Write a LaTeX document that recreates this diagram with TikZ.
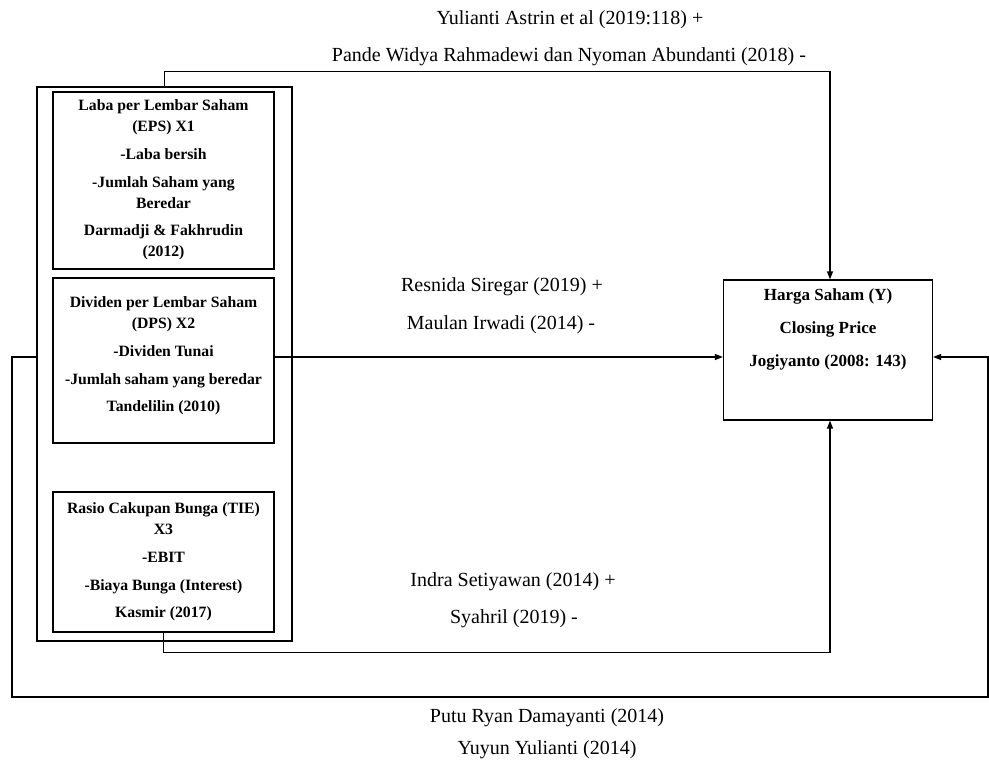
\documentclass[tikz,border=0pt]{standalone}
\usepackage{fontspec}
\setmainfont{Liberation Serif}
\usetikzlibrary{arrows.meta, positioning}

\begin{document}
\begin{tikzpicture}[x=0.75pt, y=-0.75pt, line width=0.9pt,
    kotak/.style={draw, inner sep=0pt},
    isi/.style={align=center, font=\bfseries\fontsize{11.8}{15.75}\selectfont},
    ket/.style={font=\fontsize{15}{18}\selectfont},
    panah/.style={-{Triangle[length=6pt,width=4.5pt]}}]
    \useasboundingbox (0,0) rectangle (989,764);

    % kotak variabel
    \node[kotak, minimum width=191.25pt, minimum height=415.5pt] (luar) at (164.5,364) {};
    \node[kotak, minimum width=165.75pt, minimum height=132.75pt] (eps) at (163.5,180.5) {};
    \node[kotak, minimum width=165.75pt, minimum height=123.75pt] (dps) at (163.5,360.5) {};
    \node[kotak, minimum width=165.75pt, minimum height=105pt] (tie) at (163.5,562) {};
    \node[kotak, minimum width=156.75pt, minimum height=105pt] (harga) at (828,350) {};

    \node[isi] (teps) at (163.5,180) {Laba per Lembar Saham\\(EPS) X1\\[5pt]-Laba bersih\\[5pt]-Jumlah Saham yang\\Beredar\\[5pt]Darmadji \& Fakhrudin\\(2012)};
    \node[isi] (tdps) at (163.5,356) {Dividen per Lembar Saham\\(DPS) X2\\[5pt]-Dividen Tunai\\[5pt]-Jumlah saham yang beredar\\[5pt]Tandelilin (2010)};
    \node[isi] (ttie) at (163.5,562) {Rasio Cakupan Bunga (TIE)\\X3\\[5pt]-EBIT\\[5pt]-Biaya Bunga (Interest)\\[5pt]Kasmir (2017)};
    \node[isi, font=\bfseries\fontsize{12.75}{24.75}\selectfont] (tharga) at (828,329.5) {Harga Saham (Y)\\Closing Price\\Jogiyanto (2008: 143)};

    % keterangan peneliti
    \node[ket] (ref1) at (570,20) {Yulianti Astrin et al (2019:118) +};
    \node[ket] (ref2) at (569,57) {Pande Widya Rahmadewi dan Nyoman Abundanti (2018) -};
    \node[ket] (ref3) at (502,287) {Resnida Siregar (2019) +};
    \node[ket] (ref4) at (501,325) {Maulan Irwadi (2014) -};
    \node[ket] (ref5) at (513,582) {Indra Setiyawan (2014) +};
    \node[ket] (ref6) at (514,619) {Syahril (2019) -};
    \node[ket] (ref7) at (547,718) {Putu Ryan Damayanti (2014)};
    \node[ket] (ref8) at (547,750) {Yuyun Yulianti (2014)};

    % garis hubungan
    \coordinate (masuk) at (0,357);
    \coordinate (tengah) at (830,0);
    \coordinate (kiri) at (12,697);
    \coordinate (kanan) at (988,697);
    \draw[panah] (luar.north) -- ++(0,-15) -| (harga.north -| tengah);
    \draw[panah] (dps.east |- masuk) -- (harga.west |- masuk);
    \draw[panah] (tie.south) -- ++(0,20) -| (harga.south -| tengah);
    \draw[panah] (luar.west |- masuk) -| (kiri) -- (kanan) |- (harga.east |- masuk);
\end{tikzpicture}
\end{document}
